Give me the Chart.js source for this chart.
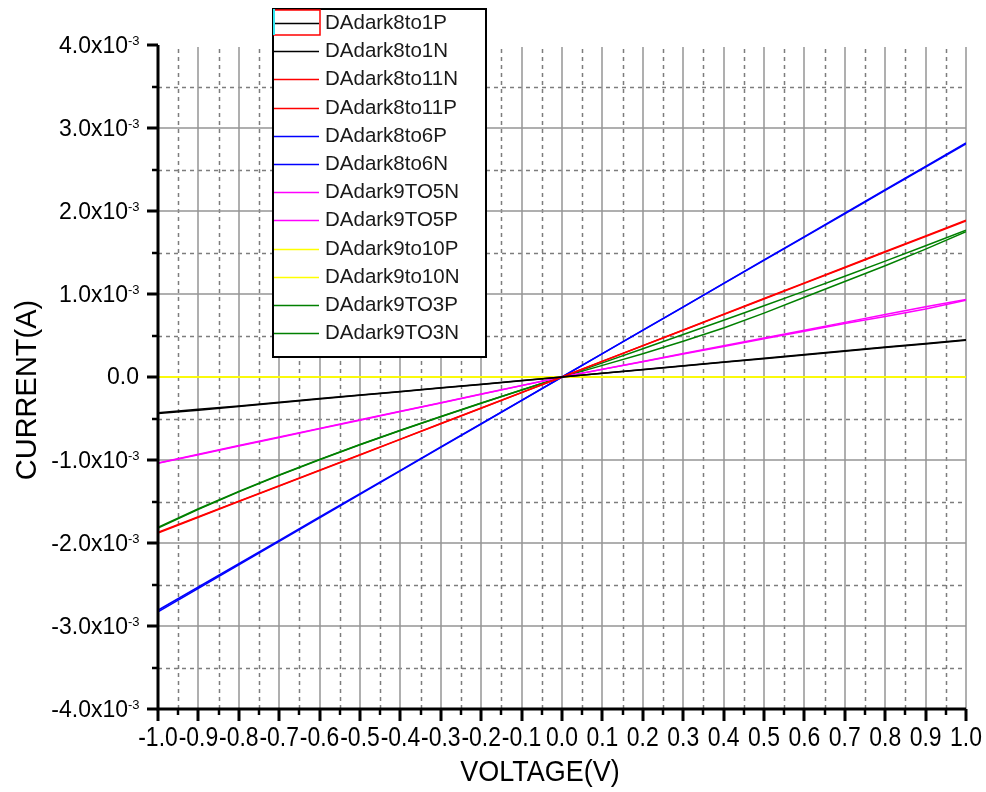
<!DOCTYPE html>
<html>
<head>
<meta charset="utf-8">
<script src="https://cdn.jsdelivr.net/npm/chart.js@4/dist/chart.umd.min.js"></script>
<style>
  html, body { margin: 0; padding: 0; background: #ffffff; }
  canvas { display: block; }
</style>
</head>
<body>
<canvas id="iv" width="986" height="792"></canvas>
<script>
// Dark I-V sweeps: voltage in V, current in mA (axis labelled in A x10^-3)
const voltage = [-1.0, -0.9, -0.8, -0.7, -0.6, -0.5, -0.4, -0.3, -0.2, -0.1, 0.0,
                  0.1,  0.2,  0.3,  0.4,  0.5,  0.6,  0.7,  0.8,  0.9,  1.0];

const dark8to1P  = [-0.440, -0.400, -0.355, -0.310, -0.265, -0.220, -0.178, -0.133, -0.089, -0.044, 0,
                     0.045,  0.090,  0.135,  0.180,  0.225,  0.270,  0.315,  0.360,  0.405,  0.450];
const dark8to1N  = [-0.430, -0.390, -0.350, -0.305, -0.260, -0.217, -0.174, -0.130, -0.087, -0.043, 0,
                     0.044,  0.088,  0.132,  0.177,  0.221,  0.265,  0.310,  0.354,  0.398,  0.443];
const dark8to11N = [-1.880, -1.690, -1.500, -1.315, -1.127, -0.940, -0.752, -0.564, -0.376, -0.188, 0,
                     0.189,  0.378,  0.567,  0.756,  0.945,  1.134,  1.323,  1.512,  1.700,  1.890];
const dark8to11P = [-1.870, -1.683, -1.496, -1.310, -1.122, -0.935, -0.748, -0.561, -0.374, -0.187, 0,
                     0.188,  0.376,  0.564,  0.752,  0.940,  1.128,  1.316,  1.504,  1.692,  1.880];
const dark8to6P  = [-2.830, -2.547, -2.264, -1.981, -1.698, -1.415, -1.132, -0.849, -0.566, -0.283, 0,
                     0.282,  0.564,  0.846,  1.128,  1.410,  1.692,  1.974,  2.256,  2.538,  2.820];
const dark8to6N  = [-2.810, -2.530, -2.250, -1.968, -1.686, -1.405, -1.124, -0.843, -0.562, -0.281, 0,
                     0.281,  0.562,  0.843,  1.124,  1.405,  1.686,  1.967,  2.248,  2.530,  2.810];
const dark9TO5N  = [-1.040, -0.936, -0.832, -0.728, -0.624, -0.520, -0.416, -0.312, -0.208, -0.104, 0,
                     0.094,  0.188,  0.282,  0.376,  0.470,  0.564,  0.658,  0.752,  0.846,  0.935];
const dark9TO5P  = [-1.035, -0.930, -0.826, -0.722, -0.619, -0.515, -0.412, -0.309, -0.206, -0.103, 0,
                     0.092,  0.184,  0.276,  0.368,  0.460,  0.552,  0.644,  0.728,  0.820,  0.925];
const dark9to10P = [0, 0, 0, 0, 0, 0, 0, 0, 0, 0, 0,
                    0, 0, 0, 0, 0, 0, 0, 0, 0, 0];
const dark9to10N = [0, 0, 0, 0, 0, 0, 0, 0, 0, 0, 0,
                    0, 0, 0, 0, 0, 0, 0, 0, 0, 0];
const dark9TO3P  = [-1.820, -1.595, -1.384, -1.185, -0.997, -0.817, -0.644, -0.478, -0.316, -0.157, 0,
                     0.170,  0.341,  0.512,  0.684,  0.859,  1.035,  1.214,  1.396,  1.581,  1.770];
const dark9TO3N  = [-1.810, -1.588, -1.378, -1.180, -0.993, -0.813, -0.641, -0.476, -0.314, -0.156, 0,
                     0.140,  0.280,  0.430,  0.590,  0.770,  0.960,  1.150,  1.340,  1.540,  1.750];

const seriesNames = ['DAdark8to1P', 'DAdark8to1N', 'DAdark8to11N', 'DAdark8to11P',
                     'DAdark8to6P', 'DAdark8to6N', 'DAdark9TO5N', 'DAdark9TO5P',
                     'DAdark9to10P', 'DAdark9to10N', 'DAdark9TO3P', 'DAdark9TO3N'];
const seriesValues = [dark8to1P, dark8to1N, dark8to11N, dark8to11P,
                      dark8to6P, dark8to6N, dark9TO5N, dark9TO5P,
                      dark9to10P, dark9to10N, dark9TO3P, dark9TO3N];
const seriesColors = ['#000000', '#000000', '#ff0000', '#ff0000',
                      '#0000ff', '#0000ff', '#ff00ff', '#ff00ff',
                      '#ffff00', '#ffff00', '#008000', '#008000'];

const xTicks = [-1.0, -0.9, -0.8, -0.7, -0.6, -0.5, -0.4, -0.3, -0.2, -0.1, 0.0,
                 0.1,  0.2,  0.3,  0.4,  0.5,  0.6,  0.7,  0.8,  0.9,  1.0];
const yTicks = [-4, -3, -2, -1, 0, 1, 2, 3, 4];
const xTitle = 'VOLTAGE(V)';
const yTitle = 'CURRENT(A)';

const FONT = "'Liberation Sans', Arial, sans-serif";

const datasets = seriesNames.map((name, i) => ({
  label: name,
  data: voltage.map((v, k) => ({ x: v, y: seriesValues[i][k] })),
  borderColor: seriesColors[i],
  backgroundColor: seriesColors[i],
  borderWidth: 1.5,
  pointRadius: 0,
  tension: 0,
  fill: false
}));

// midpoints between major ticks carry the dashed minor grid
function minorOf(ticks) {
  const out = [];
  for (let i = 0; i < ticks.length - 1; i++) out.push((ticks[i] + ticks[i + 1]) / 2);
  return out;
}

const originFrame = {
  id: 'originFrame',
  beforeDatasetsDraw(chart) {
    const { ctx, chartArea: a, scales: { x, y } } = chart;
    ctx.save();
    // dashed minor grid
    ctx.strokeStyle = '#7d7d7d';
    ctx.lineWidth = 1.5;
    ctx.setLineDash([4, 4]);
    minorOf(xTicks).forEach(v => {
      const px = Math.round(x.getPixelForValue(v)) + 0.5;
      ctx.beginPath(); ctx.moveTo(px, a.bottom); ctx.lineTo(px, a.top + 2); ctx.stroke();
    });
    minorOf(yTicks).forEach(v => {
      const py = Math.round(y.getPixelForValue(v)) + 0.5;
      ctx.beginPath(); ctx.moveTo(a.left, py); ctx.lineTo(a.right, py); ctx.stroke();
    });
    // solid major grid
    ctx.setLineDash([]);
    ctx.strokeStyle = '#959595';
    ctx.lineWidth = 1.5;
    xTicks.slice(1).forEach(v => {
      const px = Math.round(x.getPixelForValue(v));
      ctx.beginPath(); ctx.moveTo(px, a.bottom); ctx.lineTo(px, a.top + 2); ctx.stroke();
    });
    yTicks.slice(1, -1).forEach(v => {
      const py = Math.round(y.getPixelForValue(v));
      ctx.beginPath(); ctx.moveTo(a.left, py); ctx.lineTo(a.right, py); ctx.stroke();
    });
    ctx.restore();
  },
  afterDatasetsDraw(chart) {
    const { ctx, chartArea: a, scales: { x, y } } = chart;
    ctx.save();
    ctx.strokeStyle = '#000';
    ctx.fillStyle = '#000';
    // axis lines
    ctx.lineWidth = 3;
    ctx.beginPath();
    ctx.moveTo(a.left, a.top); ctx.lineTo(a.left, a.bottom);
    ctx.moveTo(a.left - 1.5, a.bottom); ctx.lineTo(a.right, a.bottom);
    ctx.stroke();
    // ticks
    xTicks.forEach(v => {
      const px = Math.round(x.getPixelForValue(v));
      ctx.lineWidth = 3;
      ctx.beginPath(); ctx.moveTo(px, a.bottom); ctx.lineTo(px, a.bottom + 12); ctx.stroke();
    });
    minorOf(xTicks).forEach(v => {
      const px = Math.round(x.getPixelForValue(v));
      ctx.lineWidth = 2.5;
      ctx.beginPath(); ctx.moveTo(px, a.bottom); ctx.lineTo(px, a.bottom + 6); ctx.stroke();
    });
    yTicks.forEach(v => {
      const py = Math.round(y.getPixelForValue(v));
      ctx.lineWidth = 3;
      ctx.beginPath(); ctx.moveTo(a.left, py); ctx.lineTo(a.left - 11, py); ctx.stroke();
    });
    minorOf(yTicks).forEach(v => {
      const py = Math.round(y.getPixelForValue(v));
      ctx.lineWidth = 2.5;
      ctx.beginPath(); ctx.moveTo(a.left, py); ctx.lineTo(a.left - 6, py); ctx.stroke();
    });

    // x tick labels (slightly condensed face)
    ctx.textAlign = 'center';
    ctx.textBaseline = 'middle';
    ctx.font = '27px ' + FONT;
    xTicks.forEach(v => {
      const px = x.getPixelForValue(v);
      ctx.save();
      ctx.translate(px, a.bottom + 30);
      ctx.scale(0.85, 1);
      ctx.fillText(v.toFixed(1), 0, 0);
      ctx.restore();
    });

    // y tick labels with power-of-ten superscript
    yTicks.forEach(v => {
      const py = y.getPixelForValue(v);
      ctx.textBaseline = 'middle';
      ctx.textAlign = 'right';
      ctx.font = '23px ' + FONT;
      if (v === 0) {
        ctx.fillText('0.0', a.left - 19, py + 1);
      } else {
        ctx.fillText(v.toFixed(1) + 'x10', a.left - 30, py + 2);
        ctx.textAlign = 'left';
        ctx.font = '13px ' + FONT;
        ctx.fillText('-3', a.left - 30, py - 4);
      }
    });

    // axis titles
    ctx.font = '29px ' + FONT;
    ctx.textAlign = 'center';
    ctx.textBaseline = 'middle';
    ctx.save();
    ctx.translate(540, 773);
    ctx.scale(0.93, 1);
    ctx.fillText(xTitle, 0, 0);
    ctx.restore();
    ctx.save();
    ctx.translate(28, 390);
    ctx.rotate(-Math.PI / 2);
    ctx.fillText(yTitle, 0, 0);
    ctx.restore();
    ctx.restore();
  }
};

const boxLegend = {
  id: 'boxLegend',
  afterDraw(chart) {
    const { ctx } = chart;
    const left = 273, top = 9, right = 486, bottom = 357;
    const row0 = 23, rowGap = 28.2;
    ctx.save();
    ctx.fillStyle = '#ffffff';
    ctx.fillRect(left, top, right - left, bottom - top);
    ctx.strokeStyle = '#000';
    ctx.lineWidth = 2;
    ctx.strokeRect(left, top, right - left, bottom - top);
    ctx.font = '20.5px ' + FONT;
    ctx.textAlign = 'left';
    ctx.textBaseline = 'middle';
    chart.data.datasets.forEach((ds, i) => {
      const yy = Math.round(row0 + i * rowGap) + 0.5;
      ctx.strokeStyle = ds.borderColor;
      ctx.lineWidth = 1.5;
      ctx.beginPath(); ctx.moveTo(left + 1, yy); ctx.lineTo(319, yy); ctx.stroke();
      ctx.fillStyle = '#1a1a1a';
      ctx.fillText(ds.label, 325, yy);
    });
    // highlighted first entry
    ctx.strokeStyle = '#ff0000';
    ctx.lineWidth = 1.5;
    ctx.strokeRect(274, 10, 46, 25);
    ctx.strokeStyle = '#33e6f0';
    ctx.lineWidth = 2;
    ctx.beginPath(); ctx.moveTo(274, 9); ctx.lineTo(274, 35); ctx.stroke();
    ctx.restore();
  }
};

new Chart(document.getElementById('iv'), {
  type: 'line',
  data: { datasets },
  options: {
    responsive: false,
    devicePixelRatio: 1,
    animation: false,
    layout: { padding: { left: 158, right: 20, top: 45, bottom: 83 } },
    plugins: { legend: { display: false }, tooltip: { enabled: false } },
    scales: {
      x: { type: 'linear', min: -1, max: 1, display: false },
      y: { type: 'linear', min: -4, max: 4, display: false }
    }
  },
  plugins: [originFrame, boxLegend]
});
</script>
</body>
</html>
